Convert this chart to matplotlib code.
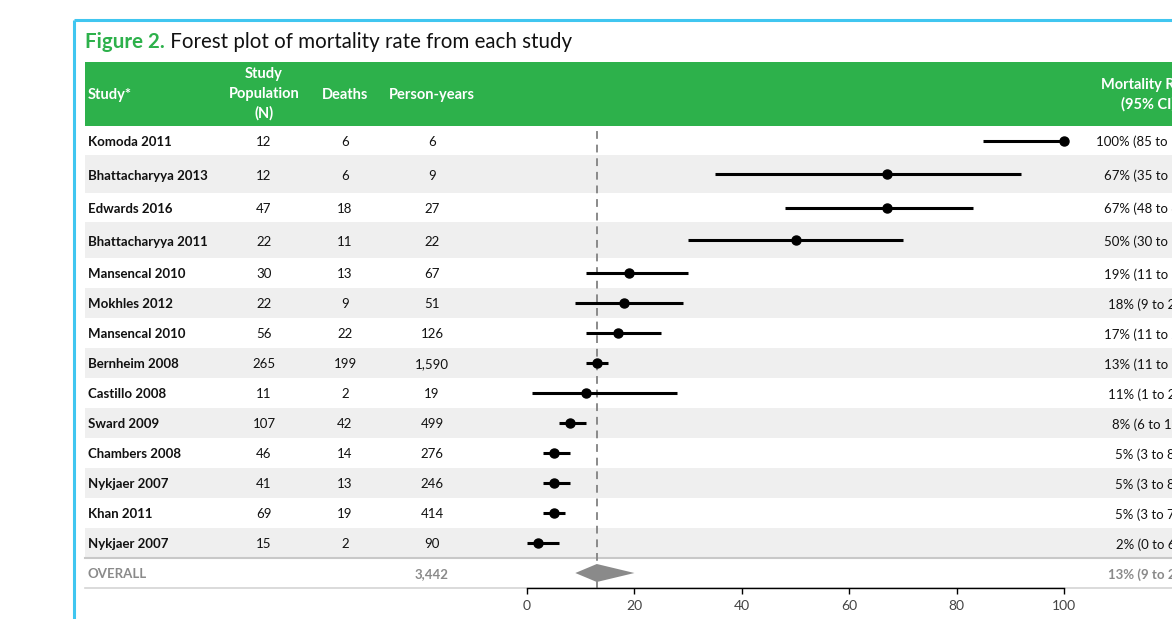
import numpy as np
import matplotlib
matplotlib.use('Agg')
import matplotlib.pyplot as plt
from matplotlib.patches import Rectangle, Polygon

plt.rcParams['font.family'] = ['Lato', 'DejaVu Sans']

# data
studies = ['Komoda 2011', 'Bhattacharyya 2013', 'Edwards 2016', 'Bhattacharyya 2011',
           'Mansencal 2010', 'Mokhles 2012', 'Mansencal 2010', 'Bernheim 2008',
           'Castillo 2008', 'Sward 2009', 'Chambers 2008', 'Nykjaer 2007',
           'Khan 2011', 'Nykjaer 2007']
population = [12, 12, 47, 22, 30, 22, 56, 265, 11, 107, 46, 41, 69, 15]
deaths = [6, 6, 18, 11, 13, 9, 22, 199, 2, 42, 14, 13, 19, 2]
person_years = ['6', '9', '27', '22', '67', '51', '126', '1,590', '19', '499',
                '276', '246', '414', '90']
rate = [100, 67, 67, 50, 19, 18, 17, 13, 11, 8, 5, 5, 5, 2]
ci_low = [85, 35, 48, 30, 11, 9, 11, 11, 1, 6, 3, 3, 3, 0]
ci_high = [100, 92, 83, 70, 30, 29, 25, 15, 28, 11, 8, 8, 7, 6]
overall_rate = 13
overall_low = 9
overall_high = 20
overall_py = '3,442'
x_ticks = [0, 20, 40, 60, 80, 100]

GREEN = '#2db14b'
BLUE = '#40c6f0'
BAND = '#efefef'
TXT = '#111111'
GREY = '#8a8a8a'

W, H = 1172, 619
# row edges in pixels (header bottom -> table bottom)
edges = [126, 155, 193, 222, 258, 288, 318, 348, 378, 408, 438, 468, 498, 528, 558, 588]
centers = [(edges[i] + edges[i + 1]) / 2 for i in range(len(edges) - 1)]
CI_X = 1147
FS = 9.5

fig = plt.figure(figsize=(W / 100, H / 100), dpi=100)
bg = fig.add_axes([0, 0, 1, 1])
bg.set_xlim(0, W)
bg.set_ylim(H, 0)
bg.axis('off')

# frame
bg.plot([74, 74], [20, H], color=BLUE, lw=2.2, solid_capstyle='butt')
bg.plot([74, W], [20, 20], color=BLUE, lw=2.2, solid_capstyle='butt')

# title
t1 = bg.text(85, 42, 'Figure 2.', color=GREEN, fontsize=14.8, fontweight='bold',
             va='center', ha='left')
bg.annotate(' Forest plot of mortality rate from each study', xy=(1, 0.5),
            xycoords=t1, va='center', ha='left', fontsize=14.8, color=TXT)

# header band
bg.add_patch(Rectangle((85, 62), W - 85, 64, color=GREEN, lw=0))
hdr = dict(color='white', fontsize=10.5, fontweight='bold', va='center')
bg.text(88, 95, 'Study*', ha='left', **hdr)
bg.text(264, 94, 'Study\nPopulation\n(N)', ha='center', linespacing=1.5, **hdr)
bg.text(345, 95, 'Deaths', ha='center', **hdr)
bg.text(432, 95, 'Person-years', ha='center', **hdr)
bg.text(1148, 95, 'Mortality Rate\n(95% CI)', ha='center', linespacing=1.45, **hdr)

# row bands and text
for i, name in enumerate(studies):
    if i % 2 == 1:
        bg.add_patch(Rectangle((85, edges[i]), W - 85, edges[i + 1] - edges[i],
                               color=BAND, lw=0))
    y = centers[i] + 1.5
    bg.text(88, y, name, ha='left', va='center', fontsize=FS, fontweight='bold', color=TXT)
    bg.text(264, y, str(population[i]), ha='center', va='center', fontsize=FS, color=TXT)
    bg.text(345, y, str(deaths[i]), ha='center', va='center', fontsize=FS, color=TXT)
    bg.text(432, y, person_years[i], ha='center', va='center', fontsize=FS, color=TXT)
    bg.text(CI_X, y, '%d%% (%d to %d)' % (rate[i], ci_low[i], ci_high[i]),
            ha='center', va='center', fontsize=FS, color=TXT)

yo = centers[-1]
bg.text(88, yo + 1.5, 'OVERALL', ha='left', va='center', fontsize=FS, fontweight='bold', color=GREY)
bg.text(432, yo + 1.5, overall_py, ha='center', va='center', fontsize=FS, fontweight='bold', color=GREY)
bg.text(CI_X, yo + 1.5, '%d%% (%d to %d)' % (overall_rate, overall_low, overall_high),
        ha='center', va='center', fontsize=FS, fontweight='bold', color=GREY)

bg.plot([85, W], [edges[-2], edges[-2]], color='#c8c8c8', lw=1.5)
bg.plot([85, W], [edges[-1], edges[-1]], color='#d4d4d4', lw=1.2)

# forest axes: x 0..100 spans px 527..1064
x0, x1 = 527, 1064
ax = fig.add_axes([x0 / W, (H - edges[-1]) / H, (x1 - x0) / W, (edges[-1] - edges[0]) / H])
ax.patch.set_visible(False)
ax.set_xlim(0, 100)
ax.set_ylim(edges[-1], edges[0])
for s in ['top', 'right', 'left']:
    ax.spines[s].set_visible(False)
ax.spines['bottom'].set_linewidth(1)
ax.set_yticks([])
ax.set_xticks(x_ticks)
ax.tick_params(axis='x', direction='out', length=4, width=1, labelsize=10,
               labelcolor='#444444', pad=5)

ax.axvline(overall_rate, color=GREY, lw=1.4, dashes=(4, 3), zorder=1)

ys = np.array(centers[:len(studies)])
ax.hlines(ys, ci_low, ci_high, color='black', lw=2.2, zorder=3, clip_on=False)
ax.plot(rate, ys, 'o', color='black', ms=6.5, zorder=4, clip_on=False)

half = 9
ax.add_patch(Polygon([(overall_low, yo), (overall_rate, yo - half),
                      (overall_high, yo), (overall_rate, yo + half)],
                     closed=True, color=GREY, lw=0, zorder=2))

fig.savefig('out.png', dpi=100)
